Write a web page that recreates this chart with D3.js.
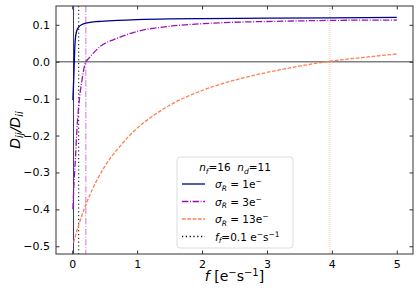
<!DOCTYPE html>
<html>
<head>
<meta charset="utf-8">
<script src="https://cdn.jsdelivr.net/npm/d3@7"></script>
<style>
  body { margin: 0; background: #fff; }
  svg { font-family: "DejaVu Sans", sans-serif; }
</style>
</head>
<body>
<svg id="chart" width="420" height="294"></svg>
<script>
// values
const fNavy = [0.01, 0.02, 0.03, 0.04, 0.05, 0.07, 0.1, 0.15, 0.25, 0.4, 0.7, 1, 1.5, 2, 3, 4, 5];
const dNavy = [-0.104, -0.06, -0.01, 0.04, 0.066, 0.084, 0.094, 0.101, 0.106, 0.109, 0.112, 0.114, 0.116, 0.117, 0.118, 0.119, 0.12];

const fMag = [0.01, 0.03, 0.05, 0.07, 0.1, 0.15, 0.2, 0.28, 0.43, 0.7, 1, 1.5, 2, 2.5, 3, 4, 5];
const dMag = [-0.4, -0.32, -0.26, -0.19, -0.12, -0.05, -0.005, 0.014, 0.041, 0.064, 0.082, 0.096, 0.103, 0.107, 0.109, 0.112, 0.113];

const fOrange = [0.02, 0.1, 0.25, 0.5, 0.75, 1, 1.25, 1.5, 2, 2.5, 3, 3.5, 4, 4.5, 5];
const dOrange = [-0.49, -0.442, -0.37, -0.284, -0.226, -0.18, -0.146, -0.118, -0.078, -0.05, -0.029, -0.012, 0.002, 0.012, 0.021];

// zero crossings / fill rate marked with vertical lines
const vNavy = 0.02;
const vMag = 0.21;
const vOrange = 3.97;
const fFill = 0.1;

const xTicks = [0, 1, 2, 3, 4, 5];
const yTicks = [-0.5, -0.4, -0.3, -0.2, -0.1, 0.0, 0.1];

const svg = d3.select("#chart");
const mLeft = 56, mRight = 413, mTop = 6, mBottom = 254;

const x = d3.scaleLinear().domain([-0.25, 5.25]).range([mLeft, mRight]);
const y = d3.scaleLinear().domain([-0.521, 0.151]).range([mBottom, mTop]);

const navy = "#00008b", mag = "#9a10b8", orange = "#ff7f50";
const dotDash = "1.2,2.6";

// clip area
svg.append("clipPath").attr("id", "clip")
  .append("rect").attr("x", mLeft).attr("y", mTop)
  .attr("width", mRight - mLeft).attr("height", mBottom - mTop);

const plot = svg.append("g").attr("clip-path", "url(#clip)");

// horizontal zero line
plot.append("line")
  .attr("x1", mLeft).attr("x2", mRight)
  .attr("y1", y(0)).attr("y2", y(0))
  .attr("stroke", "#808080").attr("stroke-width", 1.5);

// vertical lines
function vline(v, color, dash, op) {
  plot.append("line")
    .attr("x1", x(v)).attr("x2", x(v))
    .attr("y1", mTop).attr("y2", mBottom)
    .attr("stroke", color).attr("stroke-width", 1)
    .attr("stroke-dasharray", dash)
    .attr("opacity", op);
}
vline(vNavy, navy, null, 0.8);
vline(fFill, "#000", dotDash, 1);
vline(vMag, mag, "6.4,1.6,1,1.6", 0.55);
vline(vOrange, orange, "1,1", 0.5);

const line = d3.line()
  .x((d) => x(d[0]))
  .y((d) => y(d[1]))
  .curve(d3.curveMonotoneX);

function series(fs, ds, color, dash) {
  plot.append("path")
    .datum(fs.map((f, i) => [f, ds[i]]))
    .attr("d", line)
    .attr("fill", "none")
    .attr("stroke", color)
    .attr("stroke-width", 1.3)
    .attr("stroke-dasharray", dash);
}
series(fOrange, dOrange, orange, "3.7,1.6");
series(fMag, dMag, mag, "6.4,1.6,1,1.6");
series(fNavy, dNavy, navy, null);

// frame
svg.append("rect")
  .attr("x", mLeft).attr("y", mTop)
  .attr("width", mRight - mLeft).attr("height", mBottom - mTop)
  .attr("fill", "none").attr("stroke", "#333").attr("stroke-width", 1);

// axes with inward ticks
const fmt = (d) => d3.format(".1f")(d).replace("-", "\u2212");
const xAxis = svg.append("g").attr("transform", `translate(0,${mBottom})`)
  .call(d3.axisBottom(x).tickValues(xTicks).tickSize(-3.5).tickPadding(6).tickFormat(d3.format("d")));
const xTop = svg.append("g").attr("transform", `translate(0,${mTop})`)
  .call(d3.axisTop(x).tickValues(xTicks).tickSize(-3.5).tickFormat(""));
const yAxis = svg.append("g").attr("transform", `translate(${mLeft},0)`)
  .call(d3.axisLeft(y).tickValues(yTicks).tickSize(-3.5).tickPadding(6).tickFormat(fmt));
const yRight = svg.append("g").attr("transform", `translate(${mRight},0)`)
  .call(d3.axisRight(y).tickValues(yTicks).tickSize(-3.5).tickFormat(""));

[xAxis, xTop, yAxis, yRight].forEach((g) => {
  g.select(".domain").remove();
  g.selectAll("line").attr("stroke", "#333");
  g.selectAll("text").attr("font-size", 11).attr("fill", "#000")
    .attr("font-family", "DejaVu Sans, sans-serif");
});

// axis labels
const xl = svg.append("text")
  .attr("x", (mLeft + mRight) / 2).attr("y", 281)
  .attr("text-anchor", "middle").attr("font-size", 14);
xl.append("tspan").attr("font-style", "italic").text("f");
xl.append("tspan").text(" [e");
xl.append("tspan").attr("dy", -5).attr("font-size", 10).text("\u2212");
xl.append("tspan").attr("dy", 5).text("s");
xl.append("tspan").attr("dy", -5).attr("font-size", 10).text("\u22121");
xl.append("tspan").attr("dy", 5).text("]");

const yl = svg.append("text")
  .attr("transform", `translate(20,${(mTop + mBottom) / 2}) rotate(-90)`)
  .attr("text-anchor", "middle").attr("font-size", 14).attr("font-style", "italic");
yl.append("tspan").text("D");
yl.append("tspan").attr("dy", 3).attr("font-size", 10).text("ij");
yl.append("tspan").attr("dy", -3).text("/D");
yl.append("tspan").attr("dy", 3).attr("font-size", 10).text("ii");

// legend
const legend = svg.append("g");
legend.append("rect")
  .attr("x", 177).attr("y", 157).attr("width", 116).attr("height", 91)
  .attr("rx", 3).attr("fill", "#fff").attr("fill-opacity", 0.8)
  .attr("stroke", "#ddd").attr("stroke-width", 1);

const lt = legend.append("text").attr("x", 235).attr("y", 171)
  .attr("text-anchor", "middle").attr("font-size", 10.5);
lt.append("tspan").attr("font-style", "italic").text("n");
lt.append("tspan").attr("dy", 2.5).attr("font-size", 7.5).attr("font-style", "italic").text("f");
lt.append("tspan").attr("dy", -2.5).text("=16\u00a0\u00a0");
lt.append("tspan").attr("font-style", "italic").text("n");
lt.append("tspan").attr("dy", 2.5).attr("font-size", 7.5).attr("font-style", "italic").text("d");
lt.append("tspan").attr("dy", -2.5).text("=11");

const entries = [
  { color: navy, dash: null, val: "1e" },
  { color: mag, dash: "6.4,1.6,1,1.6", val: "3e" },
  { color: orange, dash: "3.7,1.6", val: "13e" },
  { color: "#000", dash: dotDash, val: null }
];
entries.forEach((e, i) => {
  const yy = 184 + i * 17.5;
  legend.append("line")
    .attr("x1", 182).attr("x2", 205).attr("y1", yy).attr("y2", yy)
    .attr("stroke", e.color).attr("stroke-width", 1.3)
    .attr("stroke-dasharray", e.dash);
  const t = legend.append("text").attr("x", 215).attr("y", yy + 4)
    .attr("font-size", 10.5);
  if (e.val) {
    t.append("tspan").attr("font-style", "italic").text("\u03c3");
    t.append("tspan").attr("dy", 2.5).attr("font-size", 7.5).attr("font-style", "italic").text("R");
    t.append("tspan").attr("dy", -2.5).text(" = " + e.val);
    t.append("tspan").attr("dy", -4).attr("font-size", 7.5).text("\u2212");
  } else {
    t.append("tspan").attr("font-style", "italic").text("f");
    t.append("tspan").attr("dy", 2.5).attr("font-size", 7.5).attr("font-style", "italic").text("f");
    t.append("tspan").attr("dy", -2.5).text("=0.1 e");
    t.append("tspan").attr("dy", -4).attr("font-size", 7.5).text("\u2212");
    t.append("tspan").attr("dy", 4).text("s");
    t.append("tspan").attr("dy", -4).attr("font-size", 7.5).text("\u22121");
  }
});
</script>
</body>
</html>
